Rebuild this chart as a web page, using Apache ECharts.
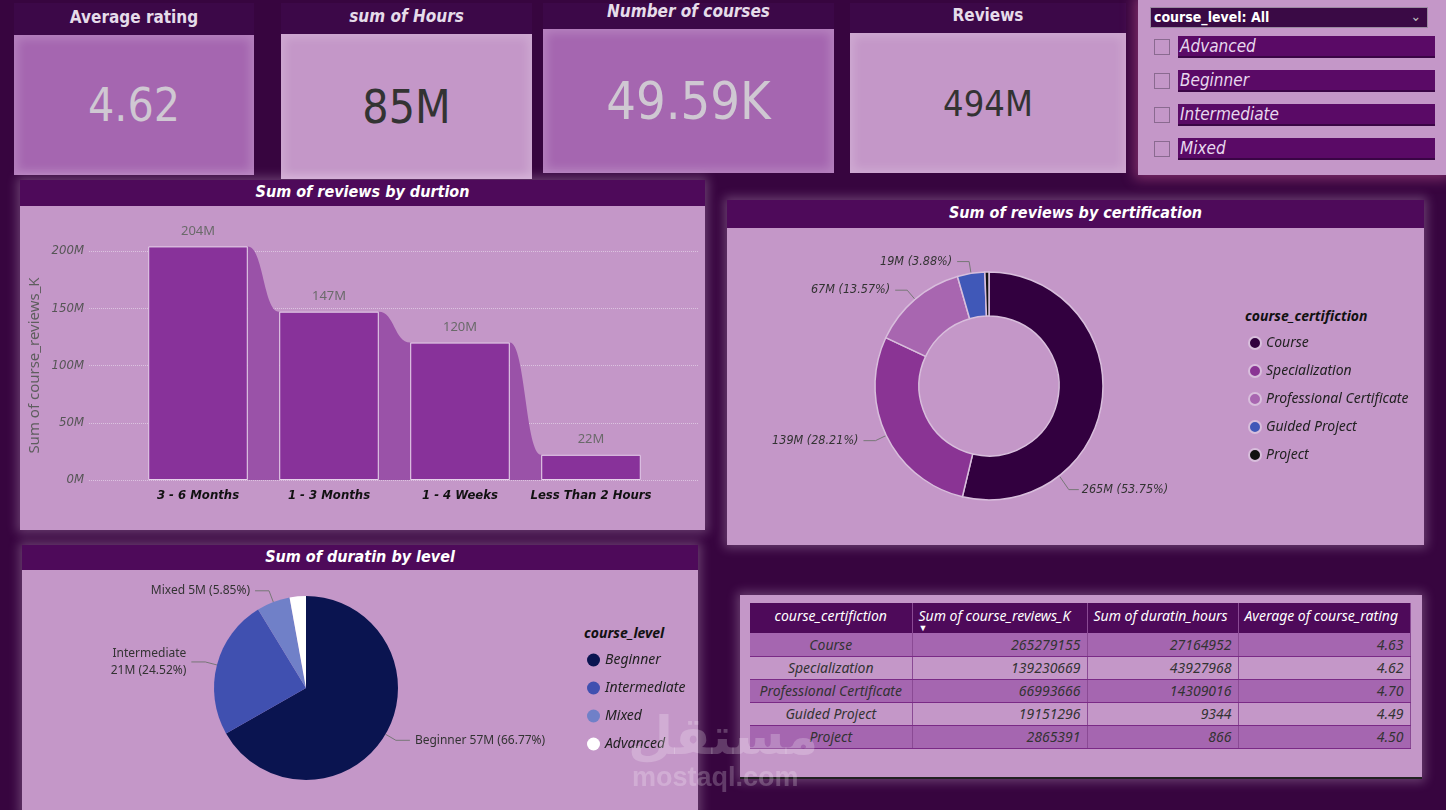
<!DOCTYPE html>
<html><head><meta charset="utf-8">
<script src="https://cdn.jsdelivr.net/npm/echarts@6/dist/echarts.min.js"></script>
<style>
body{margin:0;width:1446px;height:810px;overflow:hidden;background:#37053f;position:relative;font-family:'Noto Sans',sans-serif;}
.abs{position:absolute;box-sizing:border-box;}
.ktitle{position:absolute;text-align:center;color:#e6dcea;font-family:'DejaVu Sans Condensed',sans-serif;font-size:17px;font-weight:bold;}
.kbox{position:absolute;display:flex;align-items:center;justify-content:center;font-family:'DejaVu Sans Condensed',sans-serif;box-shadow:inset 0 0 10px 4px rgba(255,255,255,0.18);}
.ptitle{position:absolute;left:0;right:0;top:0;background:#4e0a5a;color:#fff;text-align:center;font-family:'DejaVu Sans Condensed',sans-serif;font-weight:bold;font-style:italic;font-size:16px;}
.panel{position:absolute;background:#c497c8;box-shadow:0 0 10px 3px rgba(255,230,255,0.25);}
.slitem{position:absolute;left:1178px;width:257px;height:22px;background:#5a0a66;border-bottom:2px solid #3a0545;color:#e8d8ee;font-style:italic;font-size:17px;line-height:21px;padding-left:2px;box-sizing:border-box;font-family:'DejaVu Sans Condensed',sans-serif;}
.chk{position:absolute;left:1154px;width:16px;height:16px;border:1px solid #8a6a90;box-sizing:border-box;}
table{border-collapse:collapse;font-style:italic;font-size:14px;color:#333;}
td,th{padding:0 6px;box-sizing:border-box;}
th{background:#4e0a5a;color:#fff;font-weight:normal;height:30px;border-right:1px solid #8a4a94;text-align:left;vertical-align:top;padding-top:3px;}
td{height:23px;border-right:1px solid #8a4a94;border-bottom:1px solid #7a2a86;text-align:right;}
td.c{text-align:center;}
.legt{position:absolute;font-weight:bold;font-style:italic;font-size:14px;color:#111;}
</style></head><body>
<div id="kpis"></div>
<!-- slicer -->
<div class="abs" style="left:1138px;top:0;width:308px;height:175px;background:#c497c8;box-shadow:0 0 12px 4px rgba(255,120,180,0.35);"></div>
<div class="abs" style="left:1150px;top:7px;width:278px;height:21px;background:#3a0a45;border:1px solid #9a8aa0;color:#fff;font-weight:bold;font-size:14px;line-height:19px;padding-left:3px;font-family:'DejaVu Sans Condensed',sans-serif;">course_level: All<span style="position:absolute;right:6px;top:-1px;color:#bbb;font-weight:normal;">&#8964;</span></div>
<div id="slicer"></div>

<div class="panel" style="left:20px;top:180px;width:685px;height:350px;"><div class="ptitle" style="height:26px;line-height:24px;">Sum of reviews by durtion</div></div>
<div class="panel" style="left:727px;top:200px;width:697px;height:345px;"><div class="ptitle" style="height:28px;line-height:26px;">Sum of reviews by certification</div></div>
<div class="panel" style="left:22px;top:545px;width:676px;height:270px;"><div class="ptitle" style="height:25px;line-height:23px;">Sum of duratin by level</div></div>
<div class="panel" style="left:740px;top:595px;width:682px;height:182px;border-bottom:2px solid #222;"></div>
<div class="abs" style="left:750px;top:603px;"><table id="tbl"></table></div>

<div class="legt" style="left:1245px;top:306px;">course_certifiction</div>
<div class="legt" style="left:584px;top:623px;">course_level</div>

<div id="chart" class="abs" style="left:0;top:0;width:1446px;height:810px;"></div>
<div class="abs" style="left:628px;top:706px;color:rgba(255,255,255,0.22);font-family:'DejaVu Sans',sans-serif;font-weight:bold;font-size:52px;line-height:60px;">مستقل</div>
<div class="abs" style="left:632px;top:762px;color:rgba(255,255,255,0.22);font-family:'Liberation Sans',sans-serif;font-weight:bold;font-size:27px;">mostaql.com</div>

<script>
// ---- data ----
const kpiTitles = ['Average rating', 'sum of Hours', 'Number of courses', 'Reviews'];
const kpiValues = ['4.62', '85M', '49.59K', '494M'];
const levelSlicer = ['Advanced', 'Beginner', 'Intermediate', 'Mixed'];

const durationCats = ['3 - 6 Months', '1 - 3 Months', '1 - 4 Weeks', 'Less Than 2 Hours'];
const durationReviews = [204e6, 147e6, 120e6, 22e6];

const certNames = ['Course', 'Specialization', 'Professional Certificate', 'Guided Project', 'Project'];
const certReviews = [265279155, 139230669, 66993666, 19151296, 2865391];
const certHours = [27164952, 43927968, 14309016, 9344, 866];
const certRating = ['4.63', '4.62', '4.70', '4.49', '4.50'];
const tableHeaders = ['course_certifiction', 'Sum of course_reviews_K', 'Sum of duratin_hours', 'Average of course_rating'];

const levelNames = ['Beginner', 'Intermediate', 'Mixed', 'Advanced'];
const levelHours = [57030000, 20940000, 4997000, 2443000];

// ---- KPI cards ----
const kpiLayout = [
  {tx:14, tw:240, ty:7, x:14, y:35, w:240, h:140, bg:'#a566b0', fc:'#cfc8d2', fs:46, it:false},
  {tx:281, tw:251, ty:6, x:281, y:34, w:251, h:145, bg:'#c497c8', fc:'#333', fs:46, it:true},
  {tx:543, tw:291, ty:1, x:543, y:29, w:291, h:144, bg:'#a566b0', fc:'#cfc8d2', fs:52, it:true},
  {tx:850, tw:276, ty:5, x:850, y:33, w:276, h:140, bg:'#c497c8', fc:'#333', fs:36, it:false}
];
let kh = '';
kpiLayout.forEach((k, i) => {
  kh += `<div class="abs" style="left:${k.tx}px;top:3px;width:${k.tw}px;height:${k.y-3}px;background:#3c0848;"></div>`;
  kh += `<div class="ktitle" style="left:${k.tx}px;top:${k.ty}px;width:${k.tw}px;font-style:${k.it?'italic':'normal'}">${kpiTitles[i]}</div>`;
  kh += `<div class="kbox" style="left:${k.x}px;top:${k.y}px;width:${k.w}px;height:${k.h}px;background:${k.bg};color:${k.fc};font-size:${k.fs}px;">${kpiValues[i]}</div>`;
});
document.getElementById('kpis').innerHTML = kh;

let sh = '';
levelSlicer.forEach((n, i) => {
  const t = 36 + i * 34;
  sh += `<div class="chk" style="top:${t+3}px;"></div><div class="slitem" style="top:${t}px;">${n}</div>`;
});
document.getElementById('slicer').innerHTML = sh;

// ---- table ----
const colW = [162, 175, 151, 172];
let th = '<tr>' + tableHeaders.map((h, i) => `<th style="width:${colW[i]}px;${i===0?'text-align:center;':''}">${h}${i===1?'<div style="font-size:9px;line-height:6px;">&#9660;</div>':''}</th>`).join('') + '</tr>';
certNames.forEach((n, i) => {
  const bg = i % 2 === 0 ? '#a566b0' : '#c497c8';
  th += `<tr style="background:${bg}"><td class="c">${n}</td><td>${certReviews[i]}</td><td>${certHours[i]}</td><td>${certRating[i]}</td></tr>`;
});
document.getElementById('tbl').innerHTML = th;

// ---- charts ----
const chart = echarts.init(document.getElementById('chart'), null, {renderer: 'canvas'});
const mFmt = v => Math.round(v / 1e6) + 'M';
const certTotal = certReviews.reduce((a, b) => a + b, 0);
const levelTotal = levelHours.reduce((a, b) => a + b, 0);
const pct = (v, t) => (v / t * 100).toFixed(2) + '%';
const certColors = ['#32003f', '#8a3494', '#a866b0', '#4058b8', '#111111'];
const levelColors = ['#0a1450', '#4050b0', '#7080c8', '#ffffff'];
const donutCenter = [989, 386], donutR = 114;

const option = {
  backgroundColor: 'transparent',
  animation: false,
  textStyle: {fontFamily: 'Noto Sans'},
  grid: [
    {left: 89, width: 609, top: 251, height: 229},
    {left: 132.5, width: 524, top: 251, height: 229}
  ],
  xAxis: [
    {gridIndex: 0, type: 'value', show: false, min: 0, max: 1},
    {gridIndex: 1, type: 'category', data: durationCats,
      axisLine: {show: false}, axisTick: {show: false},
      axisLabel: {interval: 0, margin: 9, color: '#111', fontWeight: 'bold', fontStyle: 'italic', fontSize: 13, fontFamily: 'DejaVu Sans Condensed'}}
  ],
  yAxis: [
    {gridIndex: 0, type: 'value', min: 0, max: 200e6, interval: 50e6,
      axisLine: {show: false}, axisTick: {show: false},
      axisLabel: {formatter: mFmt, color: '#555', fontStyle: 'italic', fontSize: 13, margin: 5, fontFamily: 'DejaVu Sans Condensed'},
      splitLine: {lineStyle: {type: 'dotted', color: '#dcc4e0', width: 1}},
      name: 'Sum of course_reviews_K', nameLocation: 'middle', nameGap: 47,
      nameTextStyle: {color: '#5e5e5e', fontSize: 15}},
    {gridIndex: 1, type: 'value', min: 0, max: 200e6, show: false}
  ],
  legend: [
    {orient: 'vertical', left: 1243, top: 331, itemGap: 14, itemWidth: 12, itemHeight: 12, icon: 'circle',
      data: certNames, textStyle: {fontStyle: 'italic', fontSize: 14, color: '#222'}, selectedMode: false},
    {orient: 'vertical', left: 582, top: 648, itemGap: 14, itemWidth: 13, itemHeight: 13, icon: 'circle',
      data: levelNames, textStyle: {fontStyle: 'italic', fontSize: 14, color: '#222'}, selectedMode: false}
  ],
  series: [
    {
      type: 'custom', xAxisIndex: 1, yAxisIndex: 1, z: 1,
      data: durationReviews.slice(0, -1).map((v, i) => [i, v, durationReviews[i + 1]]),
      encode: {x: 0, y: 1},
      renderItem: function (params, api) {
        const i = api.value(0);
        const band = api.size([1, 0])[0];
        const bw = band * 0.76;
        const p0 = api.coord([i, api.value(1)]);
        const p1 = api.coord([i + 1, api.value(2)]);
        const base = api.coord([i, 0])[1];
        const x0 = p0[0] + bw / 2, x1 = p1[0] - bw / 2, xm = (x0 + x1) / 2;
        return {type: 'path',
          shape: {pathData: `M${x0} ${base}L${x0} ${p0[1]}C${xm} ${p0[1]} ${xm} ${p1[1]} ${x1} ${p1[1]}L${x1} ${base}Z`},
          style: {fill: '#9a52a8'}};
      }
    },
    {
      type: 'bar', xAxisIndex: 1, yAxisIndex: 1, z: 2, clip: false, barWidth: '76%',
      data: durationReviews,
      itemStyle: {color: '#88329a', borderColor: '#e6d0ea', borderWidth: 1},
      label: {show: true, position: 'top', distance: 9, formatter: p => mFmt(p.value), color: '#6a6a6a', fontSize: 13}
    },
    {
      type: 'pie', name: 'cert', center: donutCenter, radius: [70, donutR], startAngle: 90, clockwise: true,
      data: certNames.map((n, i) => ({name: n, value: certReviews[i], itemStyle: {color: certColors[i]},
        label: {show: i !== 4}, labelLine: {show: i !== 4}})),
      itemStyle: {borderColor: '#d8bedc', borderWidth: 1.5},
      label: {formatter: p => mFmt(p.value) + ' (' + pct(p.value, certTotal) + ')', color: '#333', fontStyle: 'italic', fontSize: 12.5,
        fontFamily: 'DejaVu Sans Condensed'},
      labelLine: {length: 12, length2: 12, lineStyle: {color: '#777'}},
      labelLayout: function (params) {
        if (params.dataIndex === 0) {
          // Power BI places the large slice's label at its lower-right edge
          const a = -52 * Math.PI / 180;
          const sx = donutCenter[0] + (donutR + 1) * Math.cos(a);
          const sy = donutCenter[1] - (donutR + 1) * Math.sin(a);
          return {x: sx + 22, y: sy + 13, align: 'left', verticalAlign: 'middle',
            labelLinePoints: [[sx, sy], [sx + 9, sy + 13], [sx + 19, sy + 13]]};
        }
        return {};
      }
    },
    {
      type: 'pie', name: 'level', center: [306, 688], radius: [0, 92], startAngle: 90, clockwise: true,
      data: levelNames.map((n, i) => ({name: n, value: levelHours[i], itemStyle: {color: levelColors[i]},
        label: {show: i !== 3}, labelLine: {show: i !== 3}})),
      label: {formatter: p => p.name + (p.name === 'Intermediate' ? '\n' : ' ') + mFmt(p.value) + ' (' + pct(p.value, levelTotal) + ')',
        color: '#333', fontSize: 12, lineHeight: 17},
      labelLine: {length: 12, length2: 14, lineStyle: {color: '#777'}}
    }
  ]
};
chart.setOption(option);
</script>
</body></html>
